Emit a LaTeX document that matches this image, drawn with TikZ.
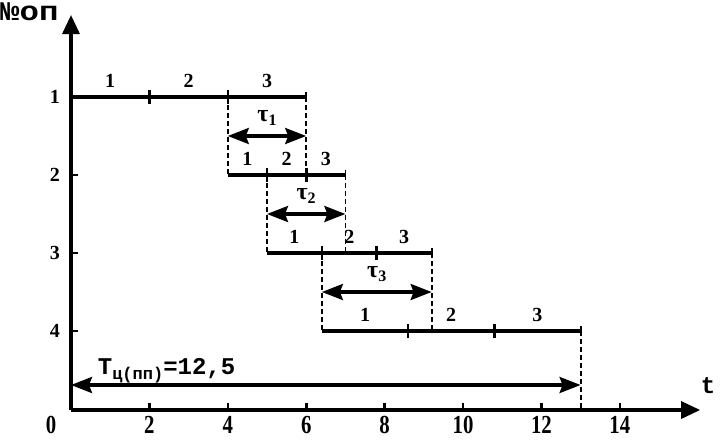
\documentclass[tikz,border=0pt]{standalone}
\usepackage{fontspec}
\setmainfont{Liberation Serif}
\newfontfamily\cour{Liberation Mono}
\newfontfamily\courw[FakeStretch=1.2]{Liberation Mono}
\newfontfamily\axf[FakeStretch=0.8]{Liberation Serif}
\usetikzlibrary{arrows.meta,calc}
\begin{document}
\begin{tikzpicture}[x=39.2pt,y=-1pt,
  rowline/.style={line width=3.2pt},
  tk/.style={line width=2.6pt},
  dsh/.style={line width=1.8pt,dash pattern=on 5pt off 3pt},
  dimarr/.style={line width=3.2pt,{Stealth[length=21pt,width=16pt,inset=3pt]}-{Stealth[length=21pt,width=16pt,inset=3pt]}},
  axisarr/.style={line width=3.2pt,-{Triangle[length=19pt,width=17pt]}},
  oplab/.style={font=\bfseries\fontsize{20}{20}\selectfont,inner sep=0pt},
  ylab/.style={font=\bfseries\fontsize{20}{20}\selectfont,inner sep=0pt,anchor=east},
  xlab/.style={font=\axf\bfseries\fontsize{26}{26}\selectfont,inner sep=0pt},
  taulab/.style={font=\bfseries\fontsize{24}{24}\selectfont,inner sep=0pt},
  monolab/.style={font=\cour\bfseries\fontsize{24}{24}\selectfont,inner sep=0pt}]
\useasboundingbox (-1.8112,0) rectangle (16.5561,440);
% coordinates
\coordinate (O) at (0,410);
\coordinate (xend) at (16.05,410);
\coordinate (yend) at (0,15);
\coordinate (a0) at (0,97);   \coordinate (a1) at (2,97);   \coordinate (a2) at (4,97);    \coordinate (a3) at (6,97);
\coordinate (b0) at (4,175);  \coordinate (b1) at (5,175);  \coordinate (b2) at (6,175);   \coordinate (b3) at (7,175);
\coordinate (c0) at (5,253);  \coordinate (c1) at (6.4,253);\coordinate (c2) at (7.8,253); \coordinate (c3) at (9.2,253);
\coordinate (d0) at (6.4,331);\coordinate (d1) at (8.6,331);\coordinate (d2) at (10.8,331);\coordinate (d3) at (13,331);
\coordinate (e13) at (13,410);
\coordinate (y2) at (0,175); \coordinate (y3) at (0,253); \coordinate (y4) at (0,331);
% axes
\draw[axisarr] (O) -- (xend);
\draw[axisarr] (O) -- (yend);
\node[inner sep=0pt,font=\courw\bfseries\fontsize{27}{27}\selectfont,anchor=west] (nop) at (-1.8112,12) {№оп};
\node[monolab] (tlab) at (16.25,386) {t};
% y ticks and labels
\foreach \p/\t in {a0/1,y2/2,y3/3,y4/4}{
  \draw[tk] (\p) -- ([xshift=7pt]\p);
  \node[ylab] (yl\t) at ([xshift=-11pt]\p) {\t};
}
% x ticks and labels
\foreach \k in {2,4,...,14}{
  \draw[tk] (\k,410) -- (\k,403);
  \node[xlab] (xl\k) at (\k,425) {\k};
}
\node[xlab] (xl0) at (-0.51,425) {0};
% rows
\foreach \r in {a,b,c,d}{
  \draw[rowline] (\r0) -- (\r3);
  \foreach \i in {1,2}{\draw[tk] ([yshift=-7pt]\r\i) -- ([yshift=7pt]\r\i);}
  \draw[line width=1.8pt] ([yshift=-5pt]\r3) -- ([yshift=5pt]\r3);
  \path (\r0) -- (\r1) node[midway,above=9pt,oplab] (\r l1) {1};
  \path (\r1) -- (\r2) node[midway,above=9pt,oplab] (\r l2) {2};
  \path (\r2) -- (\r3) node[midway,above=9pt,oplab] (\r l3) {3};
}
% dashed links
\draw[dsh] (a2) -- (b0);
\draw[dsh] (a3) -- (b2);
\draw[dsh] (b1) -- (c0);
\draw[dsh] (b3) -- (b3 |- c0);
\draw[dsh] (c1) -- (d0);
\draw[dsh] (c3) -- (c3 |- d0);
\draw[dsh] (d3) -- (e13);
% tau arrows
\coordinate (t1s) at ($(a2)!0.5!(b0)$); \coordinate (t1e) at ($(a3)!0.5!(b2)$);
\coordinate (t2s) at ($(b1)!0.5!(c0)$); \coordinate (t2e) at (b3 |- t2s);
\coordinate (t3s) at ($(c1)!0.5!(d0)$); \coordinate (t3e) at (c3 |- t3s);
\draw[dimarr] (t1s) -- (t1e);
\draw[dimarr] (t2s) -- (t2e);
\draw[dimarr] (t3s) -- (t3e);
\path (t1s) -- (t1e) node[midway,yshift=18pt,taulab] (tau1) {τ\raisebox{-4pt}{\fontsize{16}{16}\selectfont 1}};
\path (t2s) -- (t2e) node[midway,yshift=18pt,taulab] (tau2) {τ\raisebox{-4pt}{\fontsize{16}{16}\selectfont 2}};
\path (t3s) -- (t3e) node[midway,yshift=18pt,taulab] (tau3) {τ\raisebox{-4pt}{\fontsize{16}{16}\selectfont 3}};
% total
\coordinate (Ts) at (0,385); \coordinate (Te) at (13,385);
\draw[dimarr] (Ts) -- (Te);
\node[monolab,anchor=base west] (Tlab) at (0.68,374) {T\raisebox{-5pt}{\fontsize{17}{17}\selectfont ц(пп)}=12,5};
\end{tikzpicture}
\end{document}
